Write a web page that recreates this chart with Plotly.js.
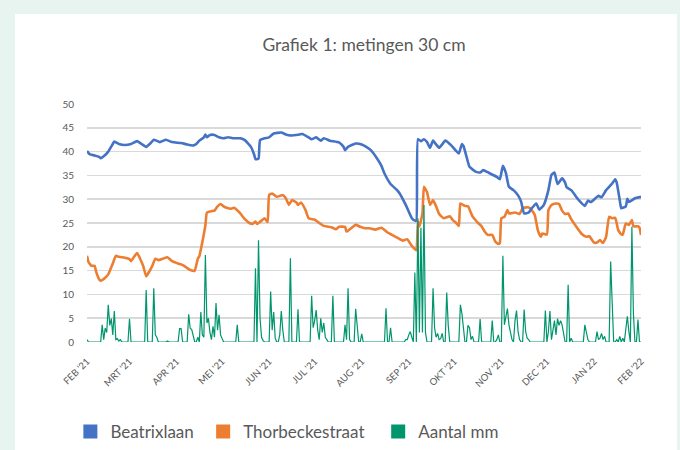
<!DOCTYPE html>
<html>
<head>
<meta charset="utf-8">
<script src="https://cdn.plot.ly/plotly-3.0.1.min.js"></script>
<style>
  html, body { margin: 0; padding: 0; background: #e8f4f0; width: 680px; height: 450px; overflow: hidden; }
  #chart { position: absolute; left: 15px; top: 14px; width: 662px; height: 436px; background: #ffffff; }
</style>
</head>
<body>
<div id="chart"></div>
<script>
// ---- data (day offsets from 1 Feb 2021) ----
const startDate = '2021-02-01';
const monthTicks = ['2021-02-01','2021-03-01','2021-04-01','2021-05-01','2021-06-01','2021-07-01','2021-08-01','2021-09-01','2021-10-01','2021-11-01','2021-12-01','2022-01-01','2022-02-01'];
const monthLabels = ["FEB '21","MRT '21","APR '21","MEI '21","JUN '21","JUL '21","AUG '21","SEP '21","OKT '21","NOV '21","DEC '21","JAN 22","FEB '22"];

const blueDays = [0,2,5,8,9,11,14,17,18,21,25,29,33,36,39,42,44,48,52,56,62,66,70,72,74,77,78,79,81,84,87,90,93,96,101,104,108,110,111,113,114,117,120,123,128,131,134,140,142,146,148,151,154,156,160,166,169,170,172,177,181,184,187,191,194,196,200,204,206,210,214,216,217,218,220,222,224,226,228,230,232,234,236,240,243,245,247,248,250,252,256,259,261,265,270,272,274,276,278,281,284,286,288,291,293,296,298,301,304,306,308,310,313,315,316,319,324,328,330,332,337,339,342,346,348,349,351,352,355,356,357,361,365];
const blueVals = [40.1,39.4,39.2,38.9,38.6,39.0,40.0,41.6,42.1,41.6,41.4,41.6,42.2,41.6,41.0,41.8,42.5,42.0,42.5,42.0,41.8,41.5,41.3,41.6,42.3,43.0,43.6,43.0,43.5,43.5,43.0,42.8,43.0,42.8,42.8,42.4,41.0,39.5,38.4,38.5,42.4,42.8,43.0,43.8,44.0,43.6,43.4,43.6,43.7,43.0,42.6,43.0,42.3,42.8,42.3,41.95,41.0,40.3,41.0,41.7,41.5,41.0,40.3,38.6,37.0,35.4,33.2,32.0,31.2,28.8,26.0,25.5,25.5,42.6,42.2,42.6,42.0,40.8,42.3,41.5,40.8,41.5,42.3,41.3,40.2,39.6,41.6,41.2,39.0,36.8,35.8,35.6,36.1,35.5,34.7,34.2,37.0,35.5,32.6,31.9,30.8,29.5,27.0,27.2,28.1,29.1,27.8,28.8,31.9,35.1,35.6,33.2,34.4,33.5,32.5,31.9,29.8,28.6,29.7,29.4,30.7,30.4,31.9,33.3,34.2,33.5,29.8,28.1,28.5,30.1,29.4,30.2,30.5];

const orangeDays = [0,1,3,5,6,8,9,12,14,17,19,21,25,28,29,31,33,35,37,39,41,43,45,47,50,53,56,60,62,64,67,69,71,73,74,76,78,79,82,84,86,88,90,92,95,97,101,104,107,109,111,112,115,117,119,120,122,125,129,131,133,135,138,139,141,144,146,150,153,156,161,164,166,170,171,174,177,180,183,186,190,194,198,201,205,208,211,214,217,218,219,221,222,224,226,228,230,232,235,237,239,241,243,245,246,249,251,254,258,260,262,264,267,269,271,272,273,275,277,278,282,285,287,290,292,295,297,299,300,303,304,306,309,311,313,315,317,319,322,326,329,331,334,336,338,340,342,344,346,348,350,352,353,355,357,359,360,363,364,365];
const orangeVals = [18.1,16.8,16.0,16.0,14.8,13.2,12.9,13.5,14.2,16.5,18.1,17.9,17.7,17.4,17.0,17.9,18.7,17.5,16.0,13.8,14.8,16.0,17.5,17.2,17.5,17.8,17.0,16.5,16.3,16.0,15.3,15.0,15.0,17.5,18.0,21.0,24.5,27.2,27.5,27.6,28.5,29.0,28.5,28.2,28.0,28.2,27.0,25.8,25.0,24.8,25.3,24.8,25.5,26.0,25.2,30.9,31.2,30.5,30.9,30.2,28.8,29.8,29.3,28.8,29.3,27.7,26.0,25.7,25.0,24.4,24.1,23.7,24.2,24.2,23.2,23.9,24.6,24.2,23.9,23.9,23.6,24.0,23.0,22.5,21.8,21.3,21.6,20.2,19.3,25.3,24.3,27.0,32.6,31.5,28.8,29.8,28.5,26.9,26.0,26.2,26.4,25.6,25.1,24.4,29.1,28.6,28.5,26.4,24.9,24.3,23.2,22.5,22.5,21.1,20.6,20.8,26.0,26.3,27.7,27.0,27.2,26.9,28.1,28.3,28.1,26.7,23.5,22.1,22.8,22.6,27.7,28.8,29.1,29.0,27.6,26.9,27.0,25.8,24.4,22.7,22.1,22.2,20.9,20.9,21.4,20.8,22.1,26.3,26.0,26.1,23.5,22.6,22.6,24.9,24.6,25.6,24.3,24.3,24.0,22.5];

// daily rainfall (mm), day 0 = 1 Feb 2021
const rainMm = [
0.5,0,0,0,0,0,0,0,0,0,
3.6,0.5,2.9,2.0,7.8,3.5,4.9,1.5,6.5,0.5,
0.7,0.2,0.5,0,0,0,0,0,4.9,0,
0,0,0,0,0,0,0,0,0,10.9,
0,0,0,0,11.3,1.5,1.0,0,0,0,
0,0,0,0.2,0,0,0,0,0,0,
0,2.8,2.8,0,0,0,0,5.8,2.9,2.6,
1.0,0,0,1.0,0,6.3,1.5,1.0,18.3,4.0,
5.0,2.0,0.5,3.3,1.0,8.2,2.5,5.7,1.5,0.5,
0,0,0,0,0,0,0,0,0,3.6,
0,0,0,0,0,0,0,0,0,0,
0,15.5,0,21.4,5.0,1.0,0.3,0,0,0,
0,10.6,2.5,6.3,0.8,0,0,1.5,6.5,2.5,
0,0,0,0,17.6,0,0,0,0,6.9,
0,0,0,0,0,0,0,0,9.7,3.0,
4.5,6.7,2.5,0.5,5.0,2.0,4.0,1.0,0.5,0,
0,0,9.7,0,0,0,0,0,0,0,
3.6,0.5,11.3,0.5,0,0,0,7.0,3.0,0,
0,1.7,0,0,0,0,0,0,0,0,
0,0,0,0,0,0,0,7.1,0,0,
3.0,0,0,0,0,0,0,0,0,0,
0.5,0.5,1.5,2.2,1.0,0,14.6,0,26.0,2.0,
24.0,2.0,28.8,2.0,0,0,0,0,11.3,3.0,
1.0,1.8,0.5,0.7,1.8,0,0,10.4,3.5,0,
0,0,0,0,0,0,7.8,6.0,3.0,0,
0,3.5,3.0,0.5,1.2,0,0,0,0,4.8,
0,0,0,0,0,0,0,4.5,0,0,
0.5,1.5,0,0,18.1,3.6,5.5,7.0,3.6,2.2,
0.5,0,4.5,6.6,2.2,0.5,0,0,6.8,2.2,
0.8,0.5,0,0,0,0,0,0,0,0,
0,0,6.6,0,2.2,6.5,0.5,3.0,4.5,1.5,
4.9,3.5,4.5,3.6,2.0,0,0,12.0,0,0.8,
0,0,0,0,0,0,0,0,3.6,2.2,
0.5,0,0,0,0,0,2.2,0.5,0.8,1.8,
0.5,1.2,0,0,0,16.9,6.5,0,0,0.5,
0,1.2,0,0.8,0,2.2,5.4,2.2,0,24.2,
6.0,0,0,4.7,0,0
];

const seriesNames = ['Beatrixlaan\u00a0','Thorbeckestraat\u00a0\u00a0','Aantal mm'];
const seriesColors = ['#4472c4','#ed7d31','#00956c'];

// ---- helpers ----
function dayToDate(d) {
  const t = new Date(startDate + 'T00:00:00Z').getTime() + d * 86400000;
  return new Date(t).toISOString().slice(0, 10);
}
const rainDays = rainMm.map((_, i) => i);

const traces = [
  { x: orangeDays.map(dayToDate), y: orangeVals, type: 'scatter', mode: 'lines',
    line: { color: seriesColors[1], width: 2.6, shape: 'spline', smoothing: 0.4 }, showlegend: false, hoverinfo: 'skip' },
  { x: blueDays.map(dayToDate), y: blueVals, type: 'scatter', mode: 'lines',
    line: { color: seriesColors[0], width: 2.6, shape: 'spline', smoothing: 0.4 }, showlegend: false, hoverinfo: 'skip' },
  { x: rainDays.map(dayToDate), y: rainMm, type: 'scatter', mode: 'lines',
    line: { color: seriesColors[2], width: 1.2 }, showlegend: false, hoverinfo: 'skip' }
];
// legend entries (square swatches)
seriesNames.forEach((n, i) => {
  traces.push({ x: [null], y: [null], type: 'scatter', mode: 'markers', name: n,
    marker: { symbol: 'square', size: 14, color: seriesColors[i] }, showlegend: true });
});

const layout = {
  width: 662, height: 436,
  margin: { l: 72, r: 36, t: 90, b: 108, autoexpand: false },
  paper_bgcolor: '#ffffff', plot_bgcolor: '#ffffff',
  font: { family: 'Lato, "Open Sans", sans-serif', color: '#595959' },
  title: { text: 'Grafiek 1: metingen 30 cm', font: { size: 17.5, color: '#595959', family: 'Lato, sans-serif' },
           x: 0.5, xref: 'paper', xanchor: 'center', y: 0.93, yref: 'container', yanchor: 'middle' },
  xaxis: {
    type: 'date', range: ['2021-02-01', '2022-02-01'],
    tickmode: 'array', tickvals: monthTicks, ticktext: monthLabels,
    tickangle: -45, tickfont: { size: 9.5, color: '#595959' },
    showgrid: false, zeroline: false, showline: false, ticks: '', ticklabelstandoff: 11,
    automargin: false
  },
  yaxis: {
    range: [0, 50], dtick: 5, tick0: 0,
    tickfont: { size: 10, color: '#595959' },
    gridcolor: '#d9d9d9', gridwidth: 1.5, zeroline: false, showline: false, ticks: '',
    ticklabelstandoff: 12, automargin: false
  },
  legend: {
    orientation: 'h', x: -0.03, xanchor: 'left', y: -0.378, yanchor: 'middle',
    font: { size: 17, color: '#595959' }, bgcolor: 'rgba(0,0,0,0)', itemclick: false
  },
  showlegend: true
};

Plotly.newPlot('chart', traces, layout, { displayModeBar: false, staticPlot: true });
</script>
</body>
</html>
